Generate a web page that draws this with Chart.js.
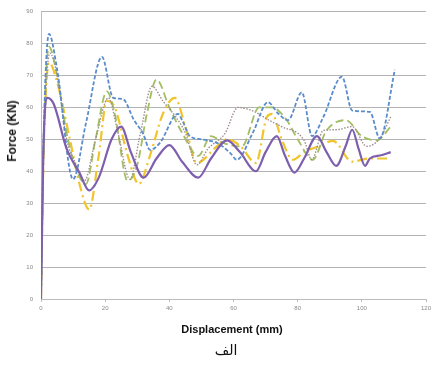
<!DOCTYPE html>
<html>
<head>
<meta charset="utf-8">
<script src="https://cdn.jsdelivr.net/npm/chart.js@4.4.1/dist/chart.umd.min.js"></script>
<style>
  html, body { margin: 0; padding: 0; background: #fff; }
  #wrap { position: relative; width: 431px; height: 366px; overflow: hidden; }
  #myChart { position: absolute; left: 0; top: 0; }
  .lbl { position: absolute; font-family: "Liberation Sans", Arial, sans-serif; font-weight: bold; color: #111; white-space: nowrap; }
  #ytitle { left: 12px; top: 131px; font-size: 12px; transform: translate(-50%, -50%) rotate(-90deg); }
  #xtitle { left: 232px; top: 329px; font-size: 11px; transform: translate(-50%, -50%); }
  #caption { left: 226px; top: 350px; font-size: 14px; font-weight: normal; transform: translate(-50%, -50%); font-family: "DejaVu Sans", "Noto Sans", sans-serif; }
</style>
</head>
<body>
<div id="wrap">
  <canvas id="myChart" width="434" height="366"></canvas>
  <div class="lbl" id="ytitle">Force (KN)</div>
  <div class="lbl" id="xtitle">Displacement (mm)</div>
  <div class="lbl" id="caption" dir="rtl">الف</div>
</div>
<script>
// axis ticks
var xTicks = [0, 20, 40, 60, 80, 100, 120];
var yTicks = [0, 10, 20, 30, 40, 50, 60, 70, 80, 90];

// purple solid
var xPurple = [0, 0.7, 2, 4, 8, 12, 15, 18, 22, 25, 28, 32, 36, 40, 44, 49, 53, 58, 62, 67, 70, 73.5, 76, 79, 82, 86, 89, 92, 95, 97, 99, 101, 102.5, 106, 109];
var yPurple = [0, 45, 63, 61, 47, 39.5, 34, 38, 50, 54, 46, 38, 44, 48.2, 43, 38, 44, 49.7, 46, 40, 46, 51, 45, 39.6, 44, 51, 46, 41.7, 48, 53, 47, 41.7, 44, 45, 46];

// blue short dash
var xBlue = [0, 0.8, 2.5, 5, 10, 14, 19, 22.5, 25.5, 29, 31.8, 34, 37, 42.7, 44, 46.4, 50, 55, 59, 61, 66, 70.7, 74, 77, 81.3, 84.5, 88, 93.8, 97, 102.5, 105.6, 110.3];
var yBlue = [0, 50, 83, 72, 37.5, 55, 75.8, 63, 62.6, 56, 51.8, 46.7, 48.8, 58, 56, 51, 50, 48.8, 45.7, 43.6, 52, 61.6, 58, 56, 64.7, 51, 57, 69.6, 59, 58.6, 50.3, 71.8];

// green long dash
var xGreen = [0, 0.8, 2.5, 5, 8, 10.6, 14, 17, 20.5, 23, 27, 30, 33, 36, 40, 44, 49, 53, 57, 62.6, 68, 72, 76.6, 80, 84.7, 89, 95, 100, 104.7, 109];
var yGreen = [0, 48, 79, 70, 52, 41.7, 36, 50, 65, 58, 37, 42, 58, 68.7, 60, 52, 44.8, 51, 48.8, 47.8, 60, 60, 56, 50, 43.6, 52.8, 56, 51, 49.7, 54];

// yellow dash-dot
var xYellow = [0, 0.8, 2.5, 5, 9, 12, 15, 18, 20.5, 23, 27, 30.5, 34, 38, 41.7, 45, 48.6, 54.8, 58, 62, 67, 70.4, 72, 75, 78.5, 82, 87, 91, 97, 102, 108];
var yYellow = [0, 45, 74, 68, 50, 36, 28, 45, 62, 60, 45, 36, 45, 58, 63, 54, 42.6, 47.8, 50, 48, 42.6, 57, 58, 50, 43.6, 46, 48, 49.5, 43, 44, 44];

// gray dotted
var xGray = [0, 0.8, 2.8, 5, 8, 11, 13.5, 17, 21, 24, 27.7, 31, 34.6, 38, 42, 45, 48.6, 52, 57.3, 61.4, 66.7, 71, 75, 82, 84.4, 88, 92, 97, 101.5, 105.6, 109];
var yGray = [0, 45, 77, 70, 50, 42, 37, 50, 63, 52, 37.5, 52, 66.6, 62, 57, 52, 42, 47, 51.8, 60, 58.6, 56, 54, 49.7, 43.6, 52.8, 53, 54, 47.8, 50.3, 57];

function pts(xs, ys) {
    var out = [];
    for (var i = 0; i < xs.length; i++) out.push({x: xs[i], y: ys[i]});
    return out;
}

function series(xs, ys, color, dash, width) {
    return {
        data: pts(xs, ys),
        borderColor: color,
        backgroundColor: color,
        borderDash: dash,
        borderWidth: width,
        pointRadius: 0,
        fill: false,
        cubicInterpolationMode: 'monotone',
        showLine: true
    };
}

var ctx = document.getElementById('myChart').getContext('2d');
var chart = new Chart(ctx, {
    type: 'scatter',
    data: {
        datasets: [
            series(xPurple, yPurple, '#7d5fae', [], 2.2),
            series(xBlue, yBlue, '#5a8ccc', [4, 2], 1.8),
            series(xGray, yGray, '#a08f8c', [1.5, 1.5], 1.4),
            series(xGreen, yGreen, '#a2bd62', [8, 4], 1.8),
            series(xYellow, yYellow, '#f0c42a', [10, 4, 2, 4], 2.2)
        ]
    },
    options: {
        responsive: false,
        animation: false,
        layout: { padding: { top: 6, right: 8, left: 0, bottom: 0 } },
        plugins: { legend: { display: false }, tooltip: { enabled: false } },
        scales: {
            x: {
                type: 'linear',
                min: 0,
                max: 120,
                afterBuildTicks: function(scale) { scale.ticks = xTicks.map(function(v) { return {value: v}; }); },
                afterFit: function(scale) { scale.height = 67; scale.paddingRight = 0; scale.paddingLeft = 0; },
                grid: { drawOnChartArea: false, drawTicks: true, tickLength: 3, color: '#bbb' },
                border: { color: '#bbb' },
                ticks: { color: '#888', font: { size: 6, family: 'Liberation Sans' }, padding: 3, maxRotation: 0 }
            },
            y: {
                min: 0,
                max: 90,
                afterBuildTicks: function(scale) { scale.ticks = yTicks.map(function(v) { return {value: v}; }); },
                afterFit: function(scale) { scale.width = 41; },
                grid: { color: '#b4b4b4', lineWidth: 1, drawTicks: false },
                border: { color: '#bbb' },
                ticks: { color: '#888', font: { size: 6, family: 'Liberation Sans' }, padding: 8 }
            }
        }
    }
});
</script>
</body>
</html>
